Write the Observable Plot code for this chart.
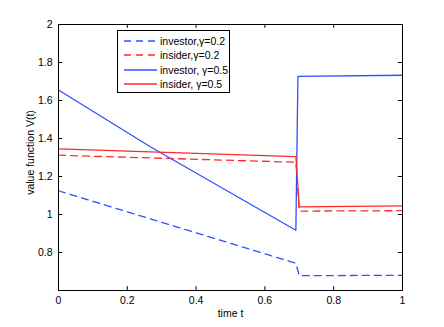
<!DOCTYPE html>
<html>
<head>
<meta charset="utf-8">
<script src="https://cdn.jsdelivr.net/npm/d3@7"></script>
<script src="https://cdn.jsdelivr.net/npm/@observablehq/plot@0.6"></script>
<style>
  html, body { margin: 0; padding: 0; background: #fff; }
  #wrap { position: relative; width: 444px; height: 327px; font-family: "Liberation Sans", Arial, sans-serif; }
  #legend { position: absolute; left: 117px; top: 30px; width: 113px; height: 63px; border: 1px solid #000; background: #fff; box-sizing: border-box; font-size: 10.5px; color: #000; }
  #legend .row { position: absolute; left: 0; height: 14px; display: flex; align-items: center; }
  #legend svg { margin-left: 6px; margin-right: 3px; }
</style>
</head>
<body>
<div id="wrap"></div>
<script>
// Series data (t, V)
const tInvestor02 = [0, 0.69, 0.70, 1];
const vInvestor02 = [1.125, 0.743, 0.678, 0.68];
const tInsider02 = [0, 0.69, 0.70, 1];
const vInsider02 = [1.312, 1.275, 1.018, 1.02];
const tInvestor05 = [0, 0.268, 0.69, 0.696, 1];
const vInvestor05 = [1.655, 1.355, 0.917, 1.727, 1.733];
const tInsider05 = [0, 0.69, 0.70, 1];
const vInsider05 = [1.345, 1.305, 1.04, 1.045];

const seriesNames = ["investor,γ=0.2", "insider,γ=0.2", "investor, γ=0.5", "insider, γ=0.5"];
const seriesColors = ["#3050ff", "#ff2a2a", "#3050ff", "#ff2a2a"];
const seriesDash = ["7,5", "7,5", null, null];

const xTicks = [0, 0.2, 0.4, 0.6, 0.8, 1];
const yTicks = [0.8, 1, 1.2, 1.4, 1.6, 1.8, 2];

const series = [
  [tInvestor02, vInvestor02],
  [tInsider02, vInsider02],
  [tInvestor05, vInvestor05],
  [tInsider05, vInsider05]
].map(([ts, vs], i) => ts.map((t, j) => ({t, v: vs[j], s: i})));

const fmt = d3.format("~g");
const xDom = [0, 1], yDom = [0.6, 2];
const tickLenX = 0.012, tickLenY = 0.02;

const chart = Plot.plot({
  width: 444,
  height: 327,
  marginLeft: 58,
  marginRight: 42,
  marginTop: 24,
  marginBottom: 37,
  style: {fontFamily: "'Liberation Sans', Arial, sans-serif", fontSize: "10.5px", color: "#000", background: "#fff"},
  x: {domain: xDom},
  y: {domain: yDom},
  marks: [
    ...series.map((d, i) => Plot.line(d, {
      x: "t", y: "v", stroke: seriesColors[i], strokeWidth: 1.3,
      strokeDasharray: seriesDash[i]
    })),
    // inward ticks
    Plot.ruleX(xTicks, {x: d => d, y1: yDom[0], y2: yDom[0] + tickLenY, stroke: "#000"}),
    Plot.ruleX(xTicks, {x: d => d, y1: yDom[1], y2: yDom[1] - tickLenY, stroke: "#000"}),
    Plot.ruleY(yTicks, {y: d => d, x1: xDom[0], x2: xDom[0] + tickLenX, stroke: "#000"}),
    Plot.ruleY(yTicks, {y: d => d, x1: xDom[1], x2: xDom[1] - tickLenX, stroke: "#000"}),
    Plot.frame({stroke: "#000", strokeWidth: 1}),
    Plot.axisX(xTicks, {tickSize: 0, tickPadding: 6, tickFormat: fmt, label: null}),
    Plot.axisY(yTicks, {tickSize: 0, tickPadding: 6, tickFormat: fmt, label: null}),
    Plot.text(["time t"], {frameAnchor: "bottom", dy: 26, text: d => d}),
    Plot.text(["value function V(t)"], {frameAnchor: "left", textAnchor: "middle", dx: -28, dy: -5, rotate: -90, text: d => d})
  ]
});

const wrap = document.getElementById("wrap");
wrap.appendChild(chart);

const legend = document.createElement("div");
legend.id = "legend";
seriesNames.forEach((name, i) => {
  const row = document.createElement("div");
  row.className = "row";
  row.style.top = (2.5 + i * 14.6) + "px";
  const dash = seriesDash[i] ? `stroke-dasharray="${seriesDash[i]}"` : "";
  row.innerHTML = `<svg width="33" height="6"><line x1="0" y1="3" x2="33" y2="3" stroke="${seriesColors[i]}" stroke-width="1.3" ${dash}/></svg><span>${name}</span>`;
  legend.appendChild(row);
});
wrap.appendChild(legend);
</script>
</body>
</html>
